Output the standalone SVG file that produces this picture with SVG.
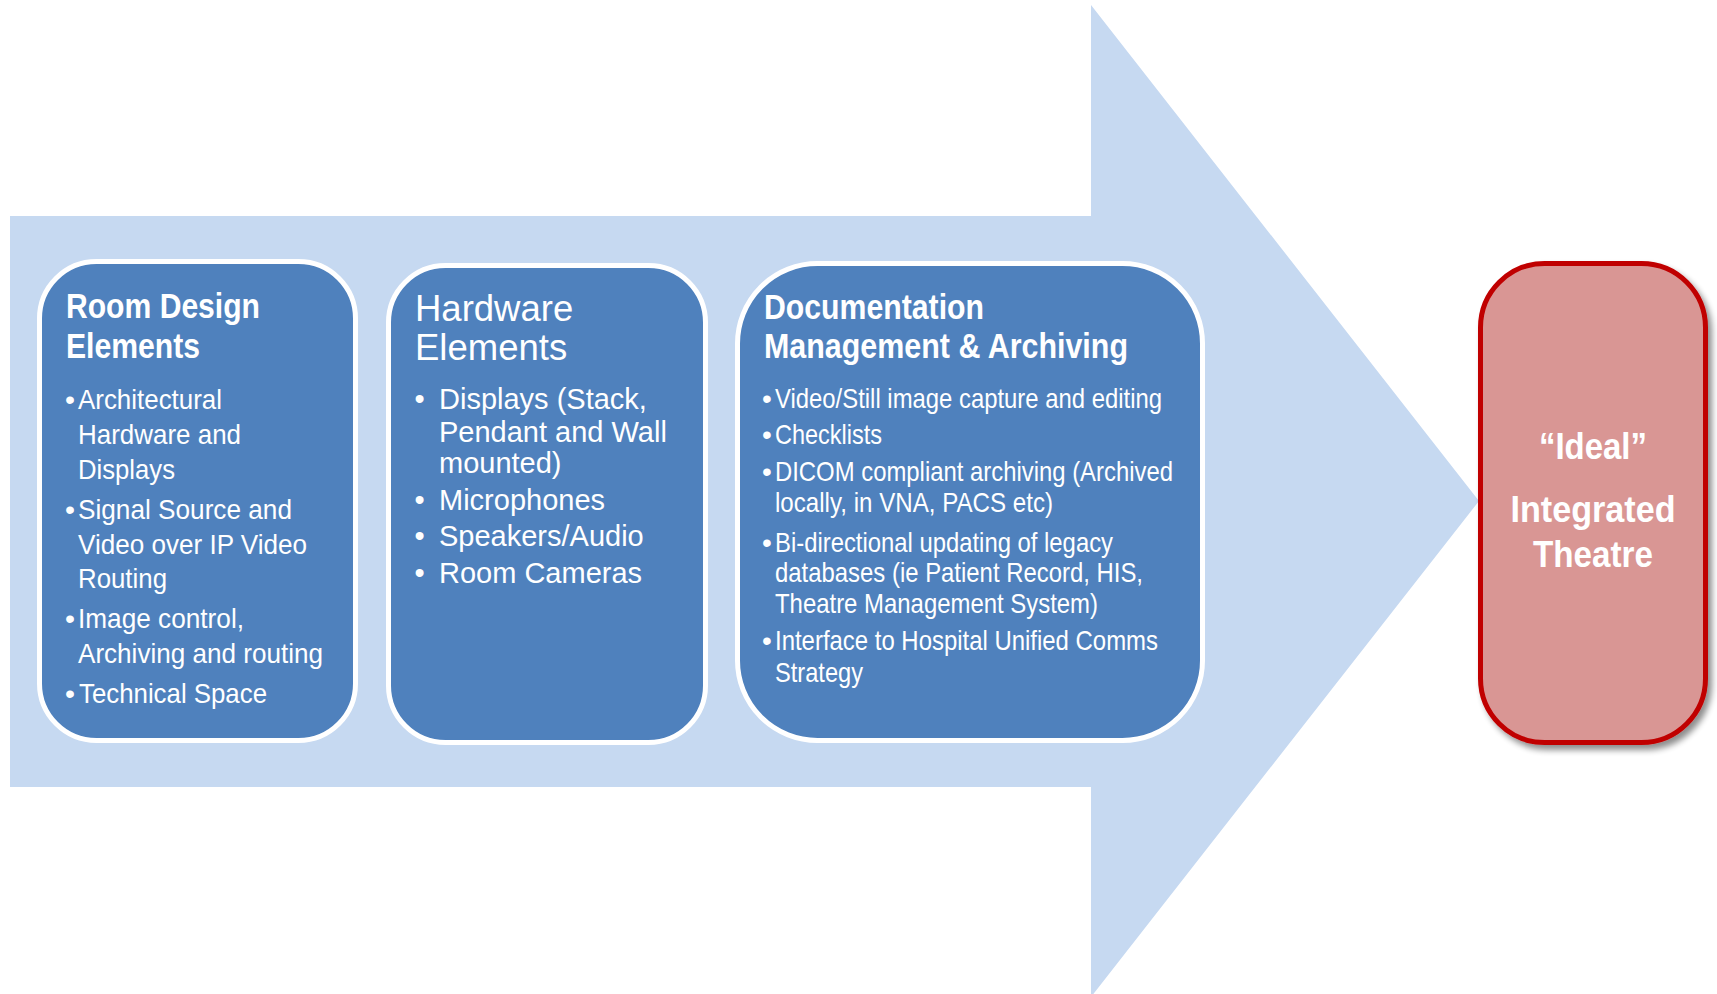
<svg xmlns="http://www.w3.org/2000/svg" width="1717" height="994" viewBox="0 0 1717 994">
  <style>
    .stage { fill: #4F81BD; stroke: #FFFFFF; stroke-width: 5; }
    .goal { fill: #D99694; stroke: #C00000; stroke-width: 5; }
    .title { font-family: "Liberation Sans", Arial, sans-serif; font-weight: bold; font-size: 35px; fill: #FFFFFF; }
    .title-reg { font-family: "Liberation Sans", Arial, sans-serif; font-size: 36.5px; fill: #FFFFFF; }
    .item { font-family: "Liberation Sans", Arial, sans-serif; font-size: 28.5px; fill: #FFFFFF; }
    .item-sm { font-family: "Liberation Sans", Arial, sans-serif; font-size: 28px; fill: #FFFFFF; }
    .item-lg { font-family: "Liberation Sans", Arial, sans-serif; font-size: 29px; fill: #FFFFFF; }
    .goal-text { font-family: "Liberation Sans", Arial, sans-serif; font-weight: bold; font-size: 36.5px; fill: #FFFFFF; text-anchor: middle; }
  </style>
  <defs>
    <filter id="softShadow" x="-20%" y="-20%" width="140%" height="140%">
      <feGaussianBlur in="SourceAlpha" stdDeviation="3"/>
      <feOffset dx="4" dy="5" result="blur"/>
      <feComponentTransfer><feFuncA type="linear" slope="0.45"/></feComponentTransfer>
      <feMerge><feMergeNode/><feMergeNode in="SourceGraphic"/></feMerge>
    </filter>
  </defs>

  <rect width="1717" height="994" fill="#FFFFFF"/>

  <!-- big progress arrow in the background -->
  <g id="connectors">
    <polygon points="10,216 1091,216 1091,5 1479,501 1091,997 1091,787 10,787" fill="#C6D9F1"/>
  </g>

  <!-- stage 1 -->
  <g id="room-design">
    <rect class="stage" x="39.5" y="261.5" width="316" height="479" rx="57" ry="57"/>
    <text class="title" x="66" y="318" textLength="194" lengthAdjust="spacingAndGlyphs">Room Design</text>
    <text class="title" x="66" y="358" textLength="134" lengthAdjust="spacingAndGlyphs">Elements</text>
    <text class="item" x="65" y="409">•</text>
    <text class="item" x="78" y="409" textLength="144" lengthAdjust="spacingAndGlyphs">Architectural</text>
    <text class="item" x="78" y="444" textLength="163" lengthAdjust="spacingAndGlyphs">Hardware and</text>
    <text class="item" x="78" y="479" textLength="97" lengthAdjust="spacingAndGlyphs">Displays</text>
    <text class="item" x="65" y="519">•</text>
    <text class="item" x="78" y="519" textLength="214" lengthAdjust="spacingAndGlyphs">Signal Source and</text>
    <text class="item" x="78" y="554" textLength="229" lengthAdjust="spacingAndGlyphs">Video over IP Video</text>
    <text class="item" x="78" y="588" textLength="89" lengthAdjust="spacingAndGlyphs">Routing</text>
    <text class="item" x="65" y="628">•</text>
    <text class="item" x="78" y="628" textLength="166" lengthAdjust="spacingAndGlyphs">Image control,</text>
    <text class="item" x="78" y="663" textLength="245" lengthAdjust="spacingAndGlyphs">Archiving and routing</text>
    <text class="item" x="65" y="703">•</text>
    <text class="item" x="79" y="703" textLength="188" lengthAdjust="spacingAndGlyphs">Technical Space</text>
  </g>

  <!-- stage 2 -->
  <g id="hardware">
    <rect class="stage" x="388.5" y="265.5" width="317" height="477" rx="57" ry="57"/>
    <text class="title-reg" x="415" y="321">Hardware</text>
    <text class="title-reg" x="415" y="360">Elements</text>
    <text class="item-lg" x="414.5" y="409">•</text>
    <text class="item-lg" x="439" y="409">Displays (Stack,</text>
    <text class="item-lg" x="439" y="442">Pendant and Wall</text>
    <text class="item-lg" x="439" y="473">mounted)</text>
    <text class="item-lg" x="414.5" y="510">•</text>
    <text class="item-lg" x="439" y="510">Microphones</text>
    <text class="item-lg" x="414.5" y="546">•</text>
    <text class="item-lg" x="439" y="546">Speakers/Audio</text>
    <text class="item-lg" x="414.5" y="583">•</text>
    <text class="item-lg" x="439" y="583">Room Cameras</text>
  </g>

  <!-- stage 3 -->
  <g id="documentation">
    <rect class="stage" x="737.5" y="263.5" width="465" height="477" rx="80" ry="80"/>
    <text class="title" x="764" y="319" textLength="220" lengthAdjust="spacingAndGlyphs">Documentation</text>
    <text class="title" x="764" y="358" textLength="364" lengthAdjust="spacingAndGlyphs">Management &amp; Archiving</text>
    <text class="item-sm" x="762" y="408">•</text>
    <text class="item-sm" x="775" y="408" textLength="387" lengthAdjust="spacingAndGlyphs">Video/Still image capture and editing</text>
    <text class="item-sm" x="762" y="444">•</text>
    <text class="item-sm" x="775" y="444" textLength="107" lengthAdjust="spacingAndGlyphs">Checklists</text>
    <text class="item-sm" x="762" y="481">•</text>
    <text class="item-sm" x="775" y="481" textLength="398" lengthAdjust="spacingAndGlyphs">DICOM compliant archiving (Archived</text>
    <text class="item-sm" x="775" y="512" textLength="278" lengthAdjust="spacingAndGlyphs">locally, in VNA, PACS etc)</text>
    <text class="item-sm" x="762" y="552">•</text>
    <text class="item-sm" x="775" y="552" textLength="338" lengthAdjust="spacingAndGlyphs">Bi-directional updating of legacy</text>
    <text class="item-sm" x="775" y="582" textLength="368" lengthAdjust="spacingAndGlyphs">databases (ie Patient Record, HIS,</text>
    <text class="item-sm" x="775" y="613" textLength="323" lengthAdjust="spacingAndGlyphs">Theatre Management System)</text>
    <text class="item-sm" x="762" y="650">•</text>
    <text class="item-sm" x="775" y="650" textLength="383" lengthAdjust="spacingAndGlyphs">Interface to Hospital Unified Comms</text>
    <text class="item-sm" x="775" y="682" textLength="88" lengthAdjust="spacingAndGlyphs">Strategy</text>
  </g>

  <!-- outcome -->
  <g id="ideal-theatre">
    <rect class="goal" x="1480.5" y="263.5" width="225" height="479" rx="64" ry="64" filter="url(#softShadow)"/>
    <text class="goal-text" x="1593" y="459" textLength="108" lengthAdjust="spacingAndGlyphs">“Ideal”</text>
    <text class="goal-text" x="1593" y="522" textLength="165" lengthAdjust="spacingAndGlyphs">Integrated</text>
    <text class="goal-text" x="1593" y="567" textLength="120" lengthAdjust="spacingAndGlyphs">Theatre</text>
  </g>
</svg>
